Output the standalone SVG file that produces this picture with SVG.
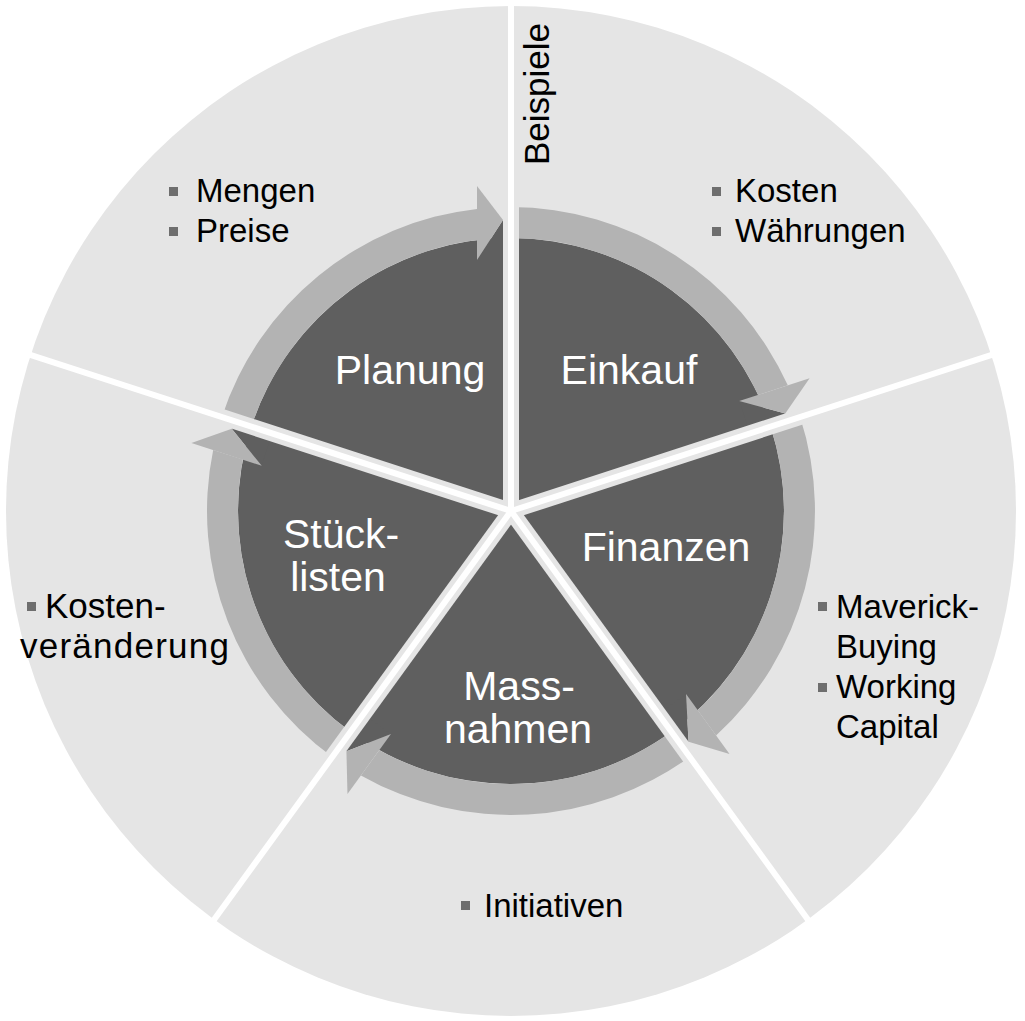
<svg xmlns="http://www.w3.org/2000/svg" xmlns:xlink="http://www.w3.org/1999/xlink" width="1025" height="1021" viewBox="0 0 1025 1021">
<style>
.dark{fill:#5f5f5f}
.band{fill:#b3b3b3}
.lbl{font-family:"Liberation Sans",Arial,sans-serif;font-size:41px;fill:#ffffff;text-anchor:middle}
.bt{font-family:"Liberation Sans",Arial,sans-serif;font-size:33px;fill:#000000}
.bul{fill:#6e6e6e}
.fr{stroke:#e5e5e5;stroke-width:16;fill:none}
.wl{stroke:#ffffff;stroke-width:6;fill:none}
</style>
<defs>
<g id="seg">
<path class="dark" d="M0 0 L-259.6 -84.4 A273 273 0 0 1 0 -273 Z"/>
<path class="band" d="M-289.1 -93.9 A304 304 0 0 1 -34 -302.1 L-34 -270.9 A273 273 0 0 0 -259.6 -84.4 Z"/>
<polygon class="dark" points="-8,-291 -34,-251 0,-251 0,-291"/>
<polygon class="band" points="-34,-325 -8,-291 -34,-251"/>
</g>
</defs>
<rect width="1025" height="1021" fill="#ffffff"/>
<circle cx="511" cy="511" r="505" fill="#e5e5e5"/>
<g id="planung">
<use xlink:href="#seg" transform="translate(511 511) rotate(0)"/>
<text class="lbl" x="410" y="384">Planung</text>
<rect class="bul" x="169" y="187" width="9" height="9"/>
<text class="bt" x="196" y="202">Mengen</text>
<rect class="bul" x="169" y="227" width="9" height="9"/>
<text class="bt" x="196" y="242">Preise</text>
</g>
<g id="einkauf">
<use xlink:href="#seg" transform="translate(511 511) rotate(72)"/>
<text class="lbl" x="629" y="384">Einkauf</text>
<rect class="bul" x="712" y="187" width="9" height="9"/>
<text class="bt" x="735" y="202">Kosten</text>
<rect class="bul" x="712" y="227" width="9" height="9"/>
<text class="bt" x="735" y="242">Währungen</text>
</g>
<g id="finanzen">
<use xlink:href="#seg" transform="translate(511 511) rotate(144)"/>
<text class="lbl" x="666" y="561">Finanzen</text>
<rect class="bul" x="818" y="602" width="9" height="9"/>
<text class="bt" x="836" y="618">Maverick-</text>
<text class="bt" x="836" y="658">Buying</text>
<rect class="bul" x="818" y="683" width="9" height="9"/>
<text class="bt" x="836" y="698">Working</text>
<text class="bt" x="836" y="738">Capital</text>
</g>
<g id="massnahmen">
<use xlink:href="#seg" transform="translate(511 511) rotate(216)"/>
<text class="lbl" x="519" y="700">Mass-</text>
<text class="lbl" x="518" y="743">nahmen</text>
<rect class="bul" x="461" y="901" width="9" height="9"/>
<text class="bt" x="484" y="917">Initiativen</text>
</g>
<g id="stuecklisten">
<use xlink:href="#seg" transform="translate(511 511) rotate(288)"/>
<text class="lbl" x="341" y="548">Stück-</text>
<text class="lbl" x="338" y="591">listen</text>
<rect class="bul" x="27" y="602" width="9" height="9"/>
<text class="bt" x="45" y="618" style="font-size:35px">Kosten-</text>
<text class="bt" x="20" y="658" style="font-size:35px" textLength="209" lengthAdjust="spacing">veränderung</text>
</g>
<g id="separators">
<line class="fr" x1="511" y1="511" x2="511" y2="201"/>
<line class="fr" x1="511" y1="511" x2="805.8" y2="415.2"/>
<line class="fr" x1="511" y1="511" x2="693.2" y2="761.8"/>
<line class="fr" x1="511" y1="511" x2="328.8" y2="761.8"/>
<line class="fr" x1="511" y1="511" x2="216.2" y2="415.2"/>
<line class="wl" x1="511" y1="511" x2="511" y2="-9"/>
<line class="wl" x1="511" y1="511" x2="1005.6" y2="350.3"/>
<line class="wl" x1="511" y1="511" x2="816.7" y2="931.7"/>
<line class="wl" x1="511" y1="511" x2="205.3" y2="931.7"/>
<line class="wl" x1="511" y1="511" x2="16.4" y2="350.3"/>
</g>
<text id="beispiele" x="0" y="0" transform="translate(549 165) rotate(-90)" style="font-family:'Liberation Sans',Arial,sans-serif;font-size:35px;fill:#000000">Beispiele</text>
</svg>
